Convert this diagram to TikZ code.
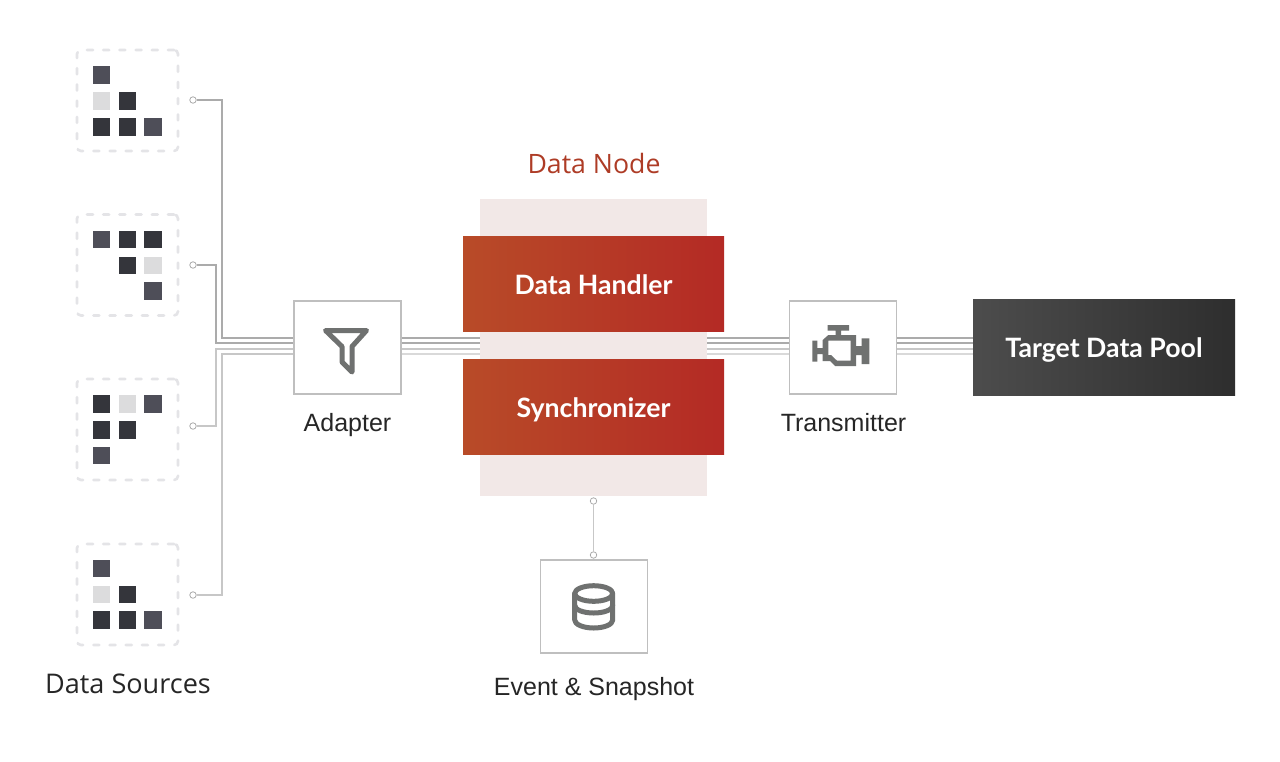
\documentclass[tikz,border=0pt]{standalone}
\usepackage{fontspec}
\setmainfont{Liberation Sans}
\newfontfamily\myr{Open Sans}
\newfontfamily\gill{Lato}[BoldFont={Lato Bold}]
\definecolor{cdark}{HTML}{34353B}
\definecolor{cmid}{HTML}{4E4E58}
\definecolor{clight}{HTML}{DCDCDD}
\definecolor{cdash}{HTML}{E4E4E7}
\definecolor{cicon}{HTML}{6F7170}
\definecolor{cband}{HTML}{F2E8E7}
\definecolor{credl}{HTML}{B84B28}
\definecolor{credr}{HTML}{B42A25}
\definecolor{ctitle}{HTML}{AE3C26}
\tikzset{
  cell/.style={minimum size=17.6*0.75pt,inner sep=0pt,draw=none},
  srcbox/.style={draw=cdash,line width=2.6*0.75pt,dash pattern=on 6*0.75pt off 10.2*0.75pt,line cap=round,rounded corners=4*0.75pt,minimum width=101*0.75pt,minimum height=101*0.75pt,inner sep=0pt},
  dot/.style={circle,draw=gray!70,fill=white,line width=0.75*0.75pt,minimum size=6.5*0.75pt,inner sep=0pt},
  wirea/.style={draw=black!33,line width=1.1*0.75pt},
  wireb/.style={draw=black!22,line width=1.1*0.75pt},
  wirec/.style={draw=black!15,line width=1.1*0.75pt},
  iconbox/.style={draw=black!25,fill=white,line width=1.2*0.75pt,minimum width=107*0.75pt,minimum height=93*0.75pt,inner sep=0pt},
  boldtext/.style={text=white,text height=15.5pt,text depth=0pt,font=\gill\bfseries\fontsize{20}{23}\selectfont},
  redbox/.style={boldtext,left color=credl,right color=credr,minimum width=261*0.75pt,minimum height=95.5*0.75pt,inner sep=0pt},
  darkbox/.style={boldtext,left color=black!70,right color=black!82,minimum width=262*0.75pt,minimum height=96.5*0.75pt,inner sep=0pt},
  icon/.style={draw=cicon,line width=5*0.75pt,line join=round,line cap=round},
  lab/.style={inner sep=0pt,anchor=base,text=black!85!white,font=\fontsize{18.75}{21}\selectfont}
}
\begin{document}
\begin{tikzpicture}[x=0.75pt,y=-0.75pt]
\useasboundingbox (0,0) rectangle (1280,761);
\fill[white] (0,0) rectangle (1280,761);

% source boxes
\node[srcbox] (src1) at (127.5,100.5) {};
\node[srcbox] (src2) at (127.5,265) {};
\node[srcbox] (src3) at (127.5,429.5) {};
\node[srcbox] (src4) at (127.5,594.5) {};

% cells source 1
\node[cell,fill=cmid] (a1) at (101.5,75.2) {};
\node[cell,fill=clight] (a2) at (101.5,101) {};
\node[cell,fill=cdark] (a3) at (127.5,101) {};
\node[cell,fill=cdark] (a4) at (101.5,127) {};
\node[cell,fill=cdark] (a5) at (127.5,127) {};
\node[cell,fill=cmid] (a6) at (153.2,127) {};
% source 2
\node[cell,fill=cmid] (b1) at (101.5,239.5) {};
\node[cell,fill=cdark] (b2) at (127.5,239.5) {};
\node[cell,fill=cdark] (b3) at (153.2,239.5) {};
\node[cell,fill=cdark] (b4) at (127.5,265.5) {};
\node[cell,fill=clight] (b5) at (153.2,265.5) {};
\node[cell,fill=cmid] (b6) at (153.2,291) {};
% source 3
\node[cell,fill=cdark] (c1) at (101.5,403.8) {};
\node[cell,fill=clight] (c2) at (127.5,403.8) {};
\node[cell,fill=cmid] (c3) at (153.2,403.8) {};
\node[cell,fill=cdark] (c4) at (101.5,429.8) {};
\node[cell,fill=cdark] (c5) at (127.5,429.8) {};
\node[cell,fill=cmid] (c6) at (101.5,455.5) {};
% source 4
\node[cell,fill=cmid] (d1) at (101.5,568.5) {};
\node[cell,fill=clight] (d2) at (101.5,594.5) {};
\node[cell,fill=cdark] (d3) at (127.5,594.5) {};
\node[cell,fill=cdark] (d4) at (101.5,620) {};
\node[cell,fill=cdark] (d5) at (127.5,620) {};
\node[cell,fill=cmid] (d6) at (153.2,620) {};

\node[font=\myr\fontsize{20.3}{24}\selectfont,inner sep=0pt,anchor=base,text=black!85!white] (srclabel) at (128,693) {Data Sources};

% band and title
\node[fill=cband,minimum width=227*0.75pt,minimum height=297*0.75pt,inner sep=0pt] (band) at (593.5,347.5) {};
\node[font=\myr\fontsize{20}{23}\selectfont,text=ctitle,inner sep=0pt] (title) at (594,163.5) {Data Node};

% boxes
\node[iconbox] (adapter) at (347.5,347.5) {};
\node[iconbox] (trans) at (843,347.5) {};
\node[iconbox] (event) at (594,606.5) {};
\node[darkbox] (target) at (1104,347.5) {Target Data Pool};

% dots
\node[dot] (p1) at (193,100) {};
\node[dot] (p2) at (193,265) {};
\node[dot] (p3) at (193,426) {};
\node[dot] (p4) at (193,595) {};
\node[dot] (p5) at (593.5,501) {};
\node[dot] (p6) at (593.5,555) {};

% bends
\coordinate (v1) at (222,338);
\coordinate (v2) at (216,343);
\coordinate (v3) at (216,349);
\coordinate (v4) at (222,354);
\draw[wirea] (p1) -| (v1) -- (adapter.west |- v1);
\draw[wirea] (p2) -| (v2) -- (adapter.west |- v2);
\draw[wireb] (p3) -| (v3) -- (adapter.west |- v3);
\draw[wireb] (p4) -| (v4) -- (adapter.west |- v4);
\draw[wireb,line width=1.4*0.75pt] (p5) -- (p6);

% trunk segments
\foreach \yy/\st in {338/wirea,343/wirea,349/wireb,354/wirec}{
  \coordinate (t) at (0,\yy);
  \draw[\st] (adapter.east |- t) -- (band.west |- t);
  \draw[\st] (band.east |- t) -- (trans.west |- t);
  \draw[\st] (trans.east |- t) -- (target.west |- t);
}

% red boxes
\node[redbox] (handler) at (593.5,284) {Data Handler};
\node[redbox] (sync) at (593.5,407) {Synchronizer};

% labels
\node[lab] (adlab) at (347.5,431) {Adapter};
\node[lab] (trlab) at (843.5,431) {Transmitter};
\node[lab] (evlab) at (594,695) {Event \& Snapshot};

% funnel
\draw[icon] (325.5,330.5) -- (366.5,330.5) -- (352,346.5) -- (352,372) -- (342,362) -- (342,346.5) -- cycle;
% engine
\fill[cicon,even odd rule]
  (827.7,325) -- (849,325) -- (849,330.5) -- (841,330.5) -- (841,335) -- (856,335) -- (856,346) -- (861.7,346) -- (861.7,338.3) -- (869.3,338.3) -- (869.3,364) -- (861.7,364) -- (861.7,355) -- (856,355) -- (856,366) -- (835,366) -- (830,361) -- (822.7,361) -- (822.7,354) -- (817.3,354) -- (817.3,361.5) -- (812.3,361.5) -- (812.3,340.7) -- (817.3,340.7) -- (817.3,348) -- (822.7,348) -- (822.7,340) -- (828.3,335) -- (835.7,335) -- (835.7,330.5) -- (827.7,330.5) -- cycle
  (828.3,340.7) -- (850.7,340.7) -- (850.7,360.7) -- (837,360.7) -- (831,355) -- (828.3,355) -- cycle;
% database
\draw[icon] (593.7,593.5) ellipse [x radius=19,y radius=7.8];
\draw[icon] (574.7,593.5) -- (574.7,620) arc[start angle=180,end angle=360,x radius=19,y radius=-8] -- (612.7,593.5);
\draw[icon] (574.7,605.5) arc[start angle=180,end angle=360,x radius=19,y radius=-7.5];
\end{tikzpicture}
\end{document}
